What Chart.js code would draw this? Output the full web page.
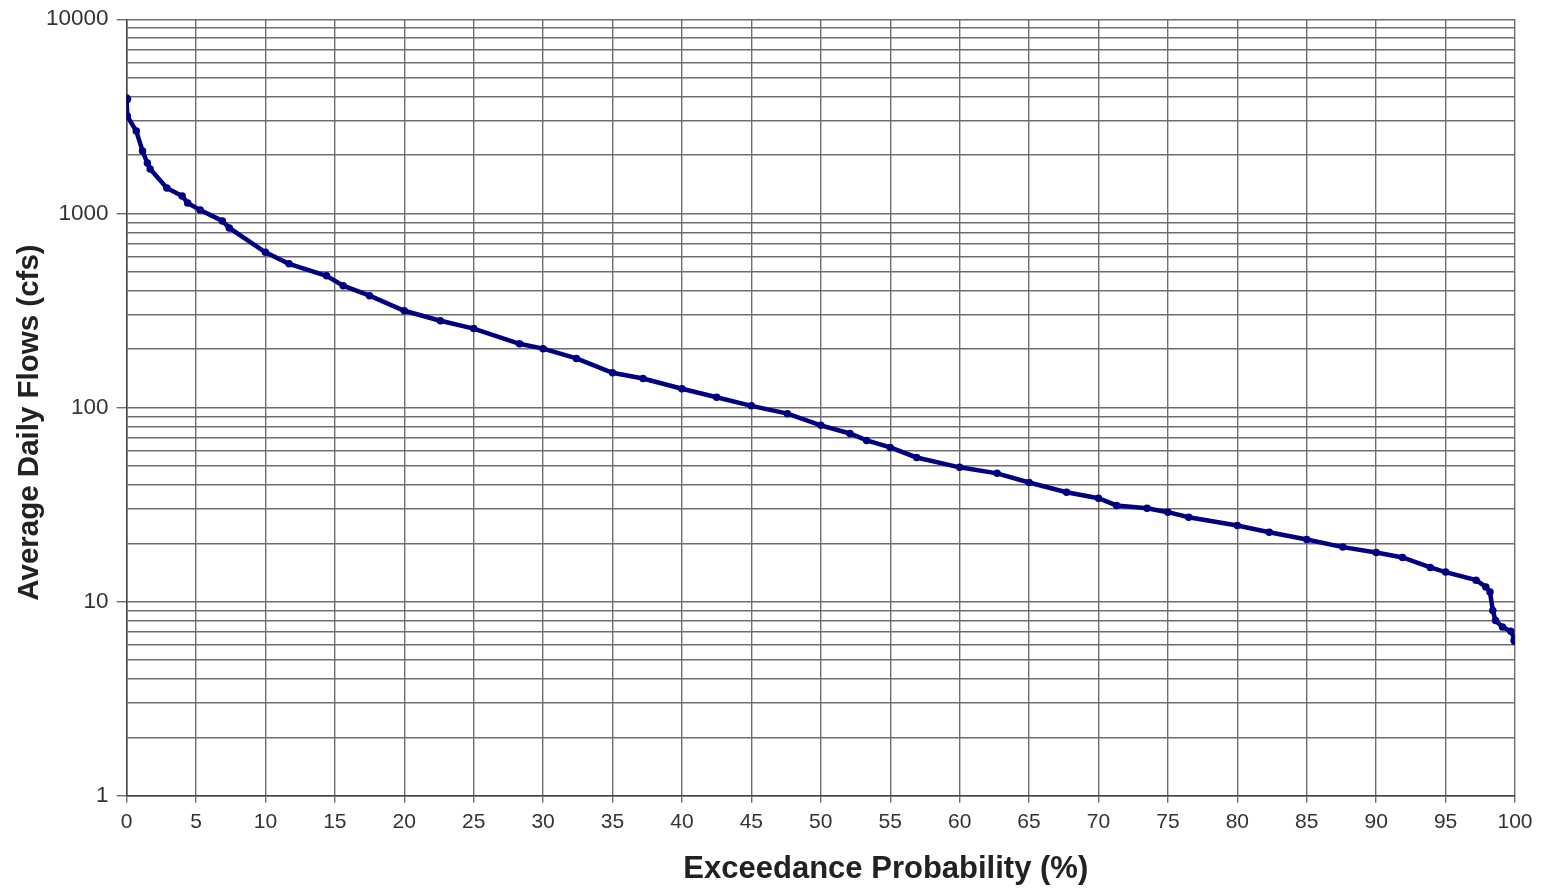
<!DOCTYPE html>
<html>
<head>
<meta charset="utf-8">
<script src="https://cdn.jsdelivr.net/npm/chart.js@4"></script>
<style>
  html, body { margin: 0; padding: 0; background: #fff; }
  #wrap { width: 1542px; height: 893px; }
</style>
</head>
<body>
<div id="wrap"><canvas id="fdc" width="1542" height="893"></canvas></div>
<script>
// flow duration curve
const exceedance = [0, 0.05, 0.7, 1.15, 1.5, 1.7, 2.9, 4.0, 4.4, 5.3, 6.9, 7.4, 10, 11.7, 14.4, 15.6, 17.5, 20, 22.6, 25,
  28.3, 30, 32.4, 35, 37.2, 40, 42.5, 45, 47.6, 50, 52.1, 53.3, 55, 56.9, 60, 62.7, 65, 67.7, 70, 71.3,
  73.5, 75, 76.5, 80, 82.3, 85, 87.6, 90, 91.9, 93.9, 95, 97.2, 97.9, 98.2, 98.4, 98.6, 99.1, 99.7, 100];
const flows = [3880, 3170, 2655, 2096, 1818, 1693, 1352, 1230, 1132, 1040, 915, 842, 630, 550, 477, 424, 377, 315, 280, 255,
  213, 201, 179, 151, 141, 125, 113, 102, 93, 81, 73.5, 67.7, 62.3, 55.3, 49.2, 45.8, 41.1, 36.6, 34.1, 31.3,
  30.3, 28.9, 27.2, 24.7, 22.8, 20.9, 19.1, 17.9, 16.9, 15.0, 14.2, 12.9, 11.9, 11.2, 9.0, 8.0, 7.4, 7.05, 6.3];

const yGridValues = [1, 2, 3, 4, 5, 6, 7, 8, 9, 10, 20, 30, 40, 50, 60, 70, 80, 90,
  100, 200, 300, 400, 500, 600, 700, 800, 900, 1000, 2000, 3000, 4000, 5000, 6000, 7000, 8000, 9000, 10000];
const yLabelValues = [1, 10, 100, 1000, 10000];

const xTitle = 'Exceedance Probability (%)';
const yTitle = 'Average Daily Flows (cfs)';

const FONT = '"Liberation Sans", Arial, sans-serif';
const GRID = '#6e6e6e';

const points = exceedance.map((x, i) => ({ x, y: flows[i] }));

// axis titles sit a bit off-centre in the original, so draw them here
const axisTitles = {
  id: 'axisTitles',
  afterDraw(chart) {
    const { ctx, chartArea } = chart;
    ctx.save();
    ctx.fillStyle = '#222';
    ctx.textAlign = 'center';
    ctx.textBaseline = 'middle';
    ctx.font = 'bold 31px ' + FONT;
    ctx.fillText(xTitle, (chartArea.left + chartArea.right) / 2 + 65, 869);
    ctx.translate(30, (chartArea.top + chartArea.bottom) / 2 + 15);
    ctx.rotate(-Math.PI / 2);
    ctx.font = 'bold 29.5px ' + FONT;
    ctx.fillText(yTitle, 0, 0);
    ctx.restore();
  }
};

new Chart(document.getElementById('fdc'), {
  type: 'scatter',
  data: {
    datasets: [{
      data: points,
      showLine: true,
      borderColor: '#000080',
      backgroundColor: '#000080',
      borderWidth: 4.5,
      pointRadius: points.map((p, i) => (i === 0 || i === points.length - 1) ? 2.5 : 1.5),
      pointHoverRadius: 2,
      tension: 0,
    }]
  },
  options: {
    responsive: false,
    animation: false,
    layout: { padding: { top: 7, right: 27, bottom: 51, left: 38 } },
    plugins: { legend: { display: false }, tooltip: { enabled: false } },
    scales: {
      x: {
        type: 'linear',
        min: 0, max: 100,
        ticks: { stepSize: 5, color: '#333', font: { family: FONT, size: 21 }, padding: 7, maxRotation: 0 },
        grid: { color: GRID, lineWidth: 1.4, tickLength: 7, tickColor: GRID },
        border: { color: '#444', width: 1.5 }
      },
      y: {
        type: 'logarithmic',
        min: 1, max: 10000,
        afterBuildTicks: (scale) => { scale.ticks = yGridValues.map(v => ({ value: v })); },
        ticks: {
          autoSkip: false,
          color: '#333',
          font: { family: FONT, size: 22.5, lineHeight: 1 },
          padding: 8,
          callback: (v) => yLabelValues.includes(v) ? String(v) : ''
        },
        grid: {
          color: GRID, lineWidth: 1.4, tickLength: 10,
          tickColor: (ctx) => (ctx.tick && yLabelValues.includes(ctx.tick.value)) ? GRID : 'rgba(0,0,0,0)'
        },
        border: { color: '#444', width: 1.5 }
      }
    }
  },
  plugins: [axisTitles]
});
</script>
</body>
</html>
